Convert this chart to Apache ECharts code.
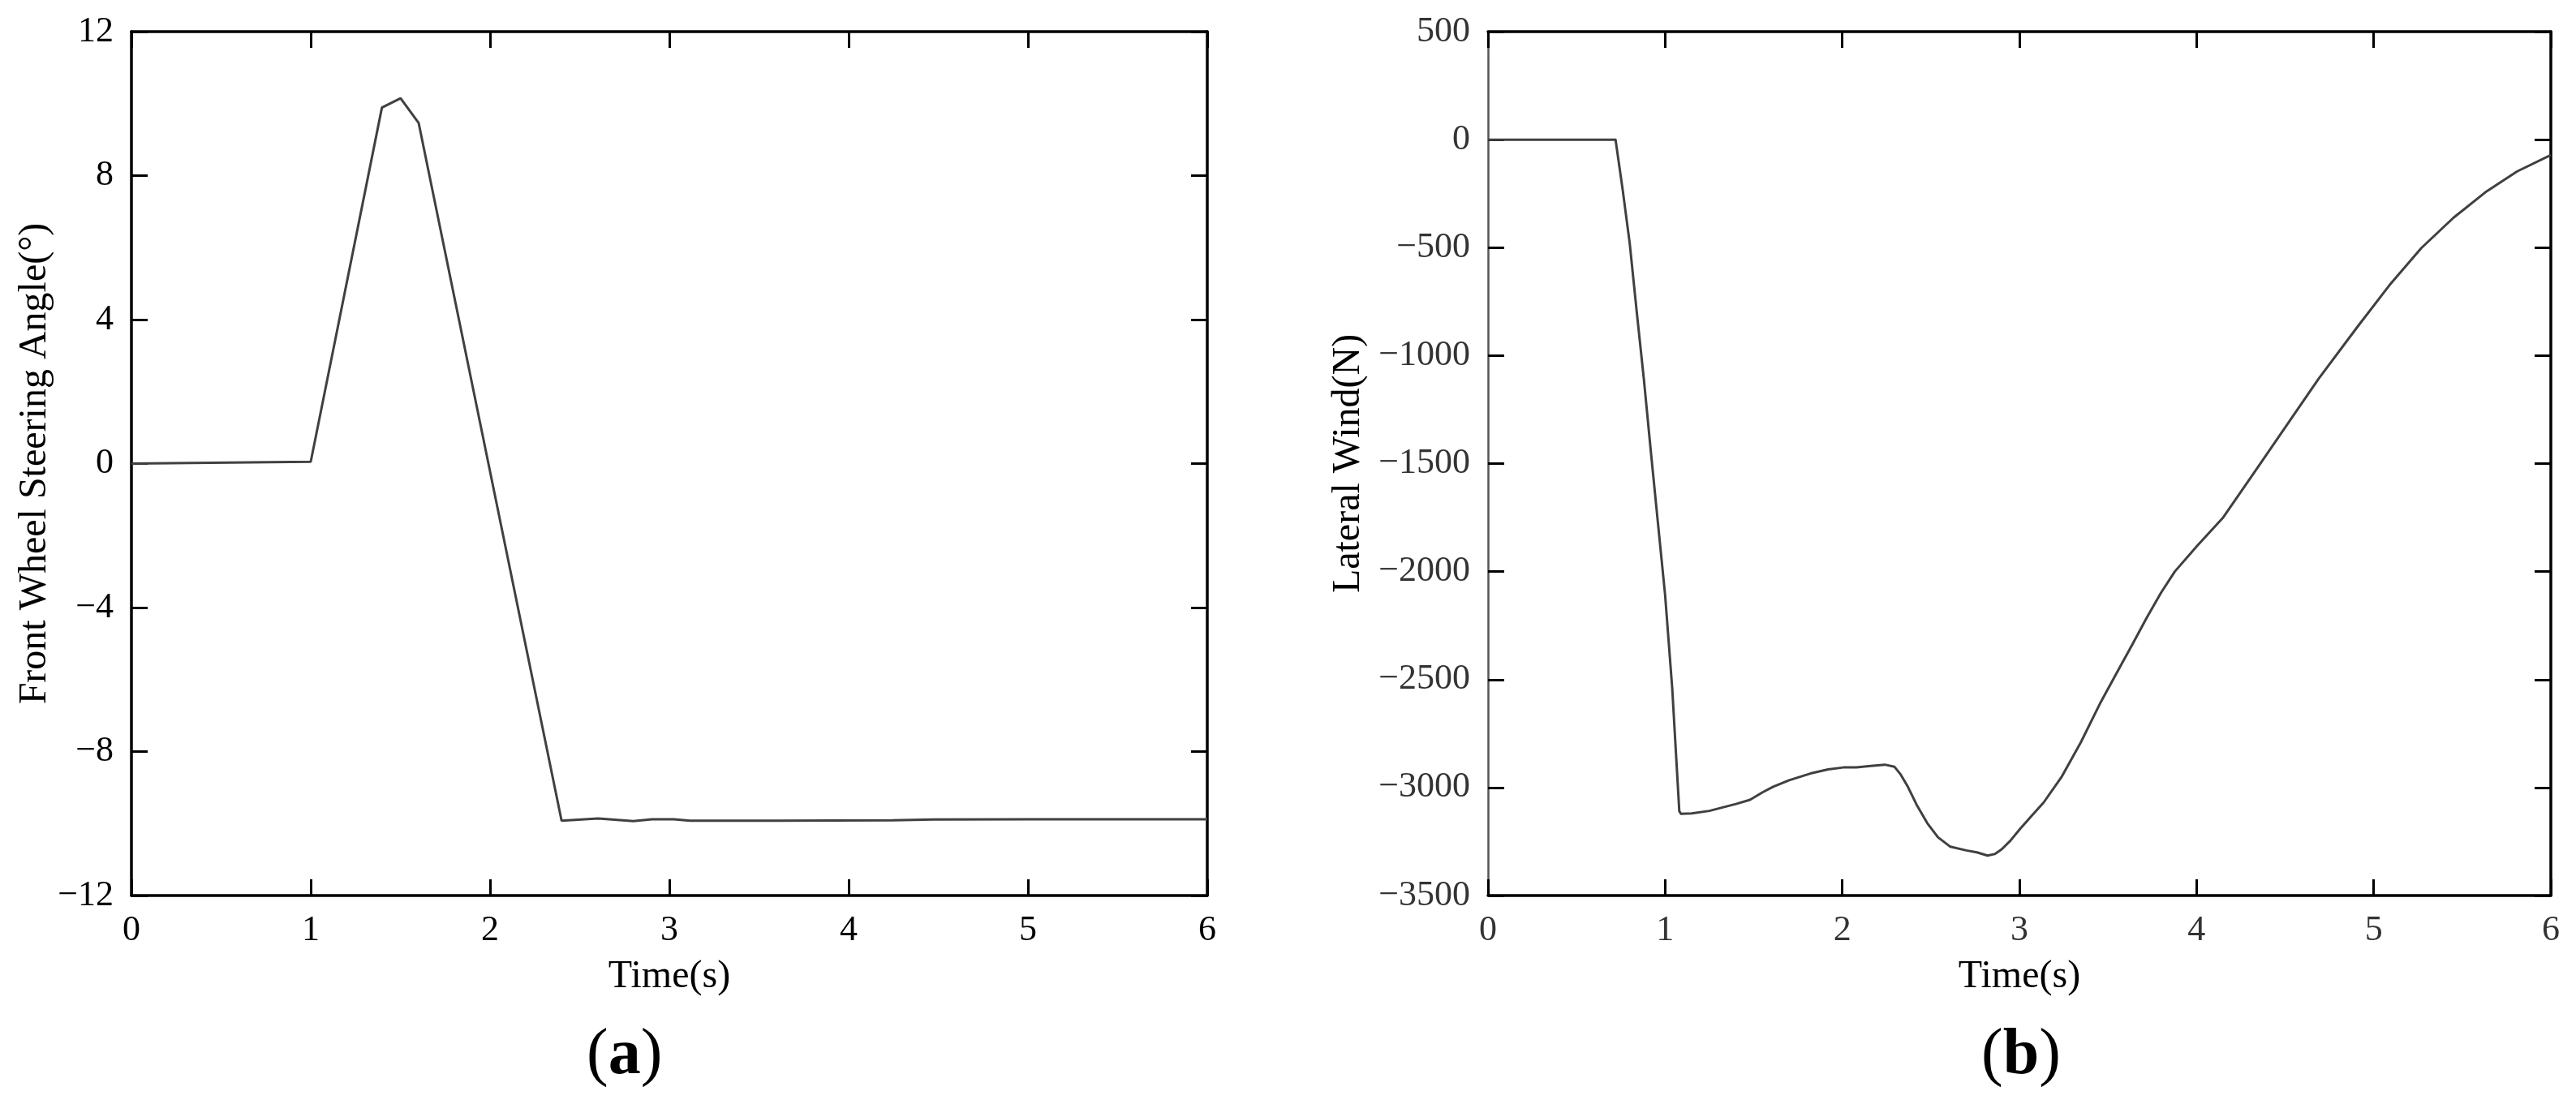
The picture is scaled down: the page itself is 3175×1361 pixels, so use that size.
<!DOCTYPE html>
<html>
<head>
<meta charset="utf-8">
<script src="https://cdn.jsdelivr.net/npm/echarts@6/dist/echarts.min.js"></script>
<style>
html,body{margin:0;padding:0;background:#fff;}
#chart{width:3175px;height:1361px;}
</style>
</head>
<body>
<div id="chart"></div>
<script>
// ---- data ----
const timeTicks = [0, 1, 2, 3, 4, 5, 6];
const angleTicks = [-12, -8, -4, 0, 4, 8, 12];
const forceTicks = [-3500, -3000, -2500, -2000, -1500, -1000, -500, 0, 500];

const steerTime  = [0, 1.0, 1.397, 1.501, 1.602, 2.399, 2.603, 2.799, 2.903, 3.025, 3.115, 3.6, 4.246, 4.47, 5.0, 6.0];
const steerAngle = [0, 0.05, 9.89, 10.15, 9.46, -9.92, -9.86, -9.93, -9.88, -9.88, -9.92, -9.92, -9.91, -9.89, -9.88, -9.88];

const windTime  = [0, 0.72, 0.76, 0.80, 0.84, 0.88, 0.92, 0.96, 1.00, 1.04, 1.08, 1.09, 1.15, 1.25, 1.32, 1.40, 1.479, 1.55, 1.61, 1.70, 1.82, 1.92, 2.005, 2.08, 2.16, 2.24, 2.295, 2.33, 2.37, 2.42, 2.48, 2.54, 2.61, 2.70, 2.76, 2.82, 2.86, 2.90, 2.95, 3.005, 3.07, 3.137, 3.24, 3.347, 3.46, 3.55, 3.64, 3.72, 3.80, 3.877, 4.003, 4.148, 4.329, 4.546, 4.69, 4.907, 5.088, 5.269, 5.45, 5.63, 5.81, 6.0];
const windForce = [0, 0, -230, -480, -800, -1110, -1450, -1780, -2110, -2540, -3110, -3122, -3120, -3108, -3093, -3076, -3057, -3022, -2996, -2966, -2935, -2916, -2907, -2907, -2900, -2894, -2904, -2940, -2996, -3080, -3165, -3230, -3274, -3291, -3300, -3315, -3308, -3286, -3245, -3190, -3130, -3069, -2948, -2790, -2603, -2468, -2334, -2212, -2097, -2000, -1881, -1752, -1537, -1278, -1106, -868, -675, -502, -362, -244, -147, -71];

// ---- chart ----
const FONT = '"Liberation Serif", "Times New Roman", serif';
const fmtMinus = v => String(v).replace('-', '\u2212');
const zip = (a, b) => a.map((x, i) => [x, b[i]]);

const chart = echarts.init(document.getElementById('chart'), null, {renderer: 'canvas'});

function xAxisCfg(grid, pos, show, labelColor) {
  return {
    type: 'value', gridIndex: grid, position: pos,
    min: timeTicks[0], max: timeTicks[timeTicks.length - 1], interval: 1,
    name: show ? 'Time(s)' : '', nameLocation: 'middle', nameGap: 76,
    nameTextStyle: {fontFamily: FONT, fontSize: 48, color: '#000'},
    axisLine: {show: true, onZero: false, lineStyle: {color: '#000', width: 3.5}},
    axisTick: {show: true, inside: true, length: 20, lineStyle: {color: '#000', width: 3}},
    axisLabel: {show: show, margin: 21, fontFamily: FONT, fontSize: 44, color: labelColor},
    splitLine: {show: false}
  };
}
function yAxisCfg(grid, pos, ticks, interval, name, nameGap, show, labelColor, lineColor, lineWidth) {
  return {
    type: 'value', gridIndex: grid, position: pos,
    min: ticks[0], max: ticks[ticks.length - 1], interval: interval,
    name: name, nameLocation: 'middle', nameGap: nameGap,
    nameTextStyle: {fontFamily: FONT, fontSize: 48, color: '#000'},
    axisLine: {show: true, onZero: false, lineStyle: {color: lineColor, width: lineWidth}},
    axisTick: {show: true, inside: true, length: 20, lineStyle: {color: '#000', width: 3}},
    axisLabel: {show: show, margin: 22, fontFamily: FONT, fontSize: 44, color: labelColor, formatter: fmtMinus},
    splitLine: {show: false}
  };
}

const option = {
  backgroundColor: '#fff',
  animation: false,
  grid: [
    {left: 162, top: 39, width: 1326, height: 1065, containLabel: false},
    {left: 1834, top: 39, width: 1310, height: 1065, containLabel: false}
  ],
  xAxis: [
    xAxisCfg(0, 'bottom', true, '#000'),
    xAxisCfg(0, 'top', false, '#000'),
    xAxisCfg(1, 'bottom', true, '#333'),
    xAxisCfg(1, 'top', false, '#333')
  ],
  yAxis: [
    yAxisCfg(0, 'left', angleTicks, 4, 'Front Wheel Steering Angle(°)', 92, true, '#000', '#000', 3.5),
    yAxisCfg(0, 'right', angleTicks, 4, '', 0, false, '#000', '#000', 3.5),
    yAxisCfg(1, 'left', forceTicks, 500, 'Lateral Wind(N)', 148, true, '#333', '#555', 2.5),
    yAxisCfg(1, 'right', forceTicks, 500, '', 0, false, '#333', '#000', 3.5)
  ],
  series: [
    {
      type: 'line', xAxisIndex: 0, yAxisIndex: 0,
      data: zip(steerTime, steerAngle),
      showSymbol: false, symbol: 'none', smooth: false,
      lineStyle: {color: '#404040', width: 3}
    },
    {
      type: 'line', xAxisIndex: 2, yAxisIndex: 2,
      data: zip(windTime, windForce),
      showSymbol: false, symbol: 'none', smooth: false,
      lineStyle: {color: '#404040', width: 3, join: 'round'}
    }
  ],
  graphic: [
    {
      type: 'text', left: 761 - 38, top: 1262,
      style: {
        text: '{p|(}{b|a}{p|)}',
        rich: {
          p: {fontFamily: FONT, fontSize: 80, fill: '#000'},
          b: {fontFamily: FONT, fontSize: 80, fontWeight: 'bold', fill: '#000'}
        }
      }
    },
    {
      type: 'text', left: 2480 - 38, top: 1262,
      style: {
        text: '{p|(}{b|b}{p|)}',
        rich: {
          p: {fontFamily: FONT, fontSize: 80, fill: '#000'},
          b: {fontFamily: FONT, fontSize: 80, fontWeight: 'bold', fill: '#000'}
        }
      }
    }
  ]
};
chart.setOption(option);
</script>
</body>
</html>
